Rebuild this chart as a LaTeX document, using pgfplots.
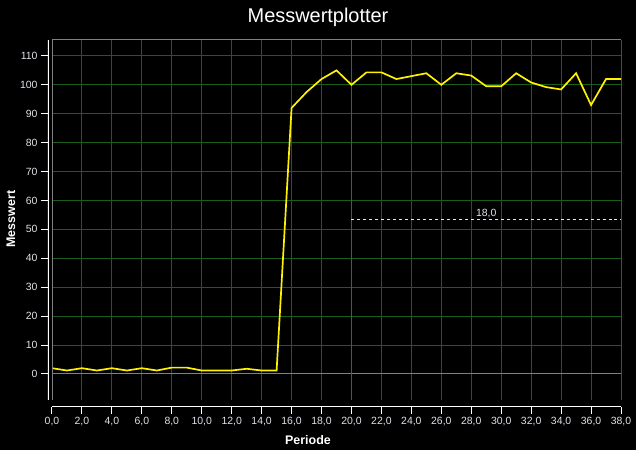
\documentclass[border=0pt]{standalone}
\usepackage{fontspec}
\setmainfont{Liberation Sans}
\usepackage{pgfplots}
\pgfplotsset{compat=1.18}
\definecolor{gridgreen}{RGB}{26,94,26}
\definecolor{framegreen}{RGB}{90,160,90}
\definecolor{ticktext}{RGB}{225,225,235}
\definecolor{markred}{RGB}{200,35,35}
\definecolor{dashyellow}{RGB}{240,240,170}

\begin{document}
\begin{tikzpicture}
\fill[black] (0,0) rectangle (636bp,450bp);
\useasboundingbox (0,0) rectangle (636bp,450bp);
% grid, frame and data
\begin{axis}[
  at={(52bp,50bp)}, anchor=south west,
  scale only axis, width=569bp, height=360bp,
  xmin=0, xmax=38, ymin=-9, ymax=115.5,
  axis line style={draw=none},
  major tick length=0pt,
  xtick={0,2,...,38}, ytick={0,10,...,110},
  xticklabels={}, yticklabels={},
  grid=major,
  major grid style={draw=gridgreen, line width=1bp},
]
\addplot[gray, line width=1bp] coordinates {(0,0) (38,0)};
\addplot[markred, line width=1bp] coordinates {(20,-9) (20,115.5)};
\addplot[dashyellow, dashed, line width=0.8bp] coordinates {(20,53.3) (38,53.3)};
\node[text=ticktext, font=\fontsize{10.5}{12}\selectfont, anchor=south, inner sep=1.5bp] at (axis cs:29,53.3) {18,0};
\addplot[yellow, line width=1.7bp] table {
x y
0 2.0
1 1.2
2 2.0
3 1.2
4 2.0
5 1.2
6 2.0
7 1.2
8 2.2
9 2.2
10 1.2
11 1.2
12 1.2
13 1.8
14 1.2
15 1.2
16 92
17 97.5
18 102
19 105
20 100
21 104.3
22 104.3
23 102
24 103
25 104
26 100
27 104
28 103.2
29 99.5
30 99.5
31 104
32 100.8
33 99.2
34 98.4
35 104
36 93
37 102
38 102
};
\draw[gray, line width=1bp] (rel axis cs:0,0) -- (rel axis cs:0,1) -- (rel axis cs:1,1);
\draw[framegreen, line width=1bp] (rel axis cs:0,0) -- (rel axis cs:1,0) -- (rel axis cs:1,1);
\end{axis}
% offset axis lines with ticks and labels
\begin{axis}[
  at={(48bp,43bp)}, anchor=south west,
  scale only axis, width=573bp, height=367bp,
  xmin=-0.2671, xmax=38, ymin=-11.4208, ymax=115.5,
  axis lines=left,
  axis line style={draw=none},
  tick align=outside,
  major tick length=7bp,
  tick style={draw=white, line width=1bp},
  xtick={0,2,...,38}, ytick={0,10,...,110},
  tick label style={text=ticktext, font=\fontsize{10.5}{12}\selectfont},
  /pgf/number format/assume math mode=true,
  xticklabel={\pgfmathprintnumber[fixed,fixed zerofill,precision=1,use comma]{\tick}},
  yticklabel={\pgfmathprintnumber[fixed,precision=0]{\tick}},
]
\draw[white, line width=1.2bp] (axis cs:0,-11.4208) -- (axis cs:38,-11.4208);
\draw[white, line width=1.2bp] (axis cs:-0.2671,-9) -- (axis cs:-0.2671,115.5);
\end{axis}
\node[white, font=\fontsize{20}{22}\selectfont] at (318bp,433bp) {Messwertplotter};
\node[white, font=\bfseries\fontsize{12.5}{14}\selectfont, rotate=90] at (11bp,231bp) {Messwert};
\node[white, font=\bfseries\fontsize{12.5}{14}\selectfont] at (308bp,10bp) {Periode};
\end{tikzpicture}
\end{document}
